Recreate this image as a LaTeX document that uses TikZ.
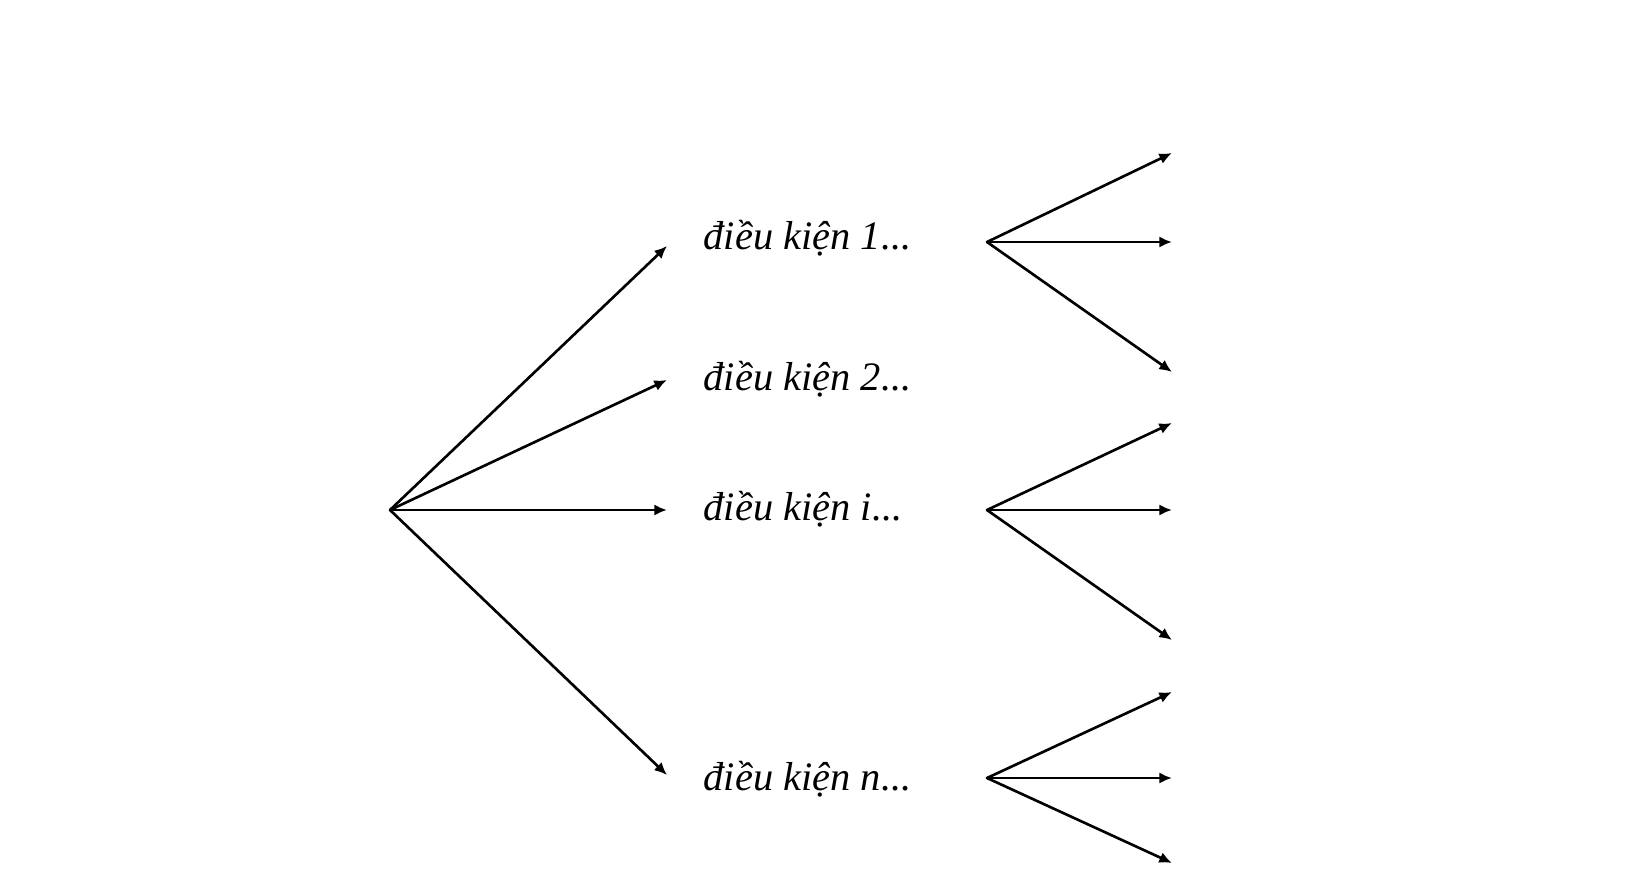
\documentclass[tikz,border=0pt]{standalone}
\usepackage{fontspec}
\setmainfont{Liberation Serif}
\usetikzlibrary{arrows.meta}
\begin{document}
\begin{tikzpicture}[line cap=round,line join=round,>={Latex[length=3.6pt,width=3.2pt]},
  branch/.style={line width=0.75pt,->},
  cond/.style={anchor=base west,inner sep=0pt,font=\fontsize{11.5}{14}\selectfont\itshape}]
  \useasboundingbox (0,0) rectangle (16.45,8.71);
  % root and first level
  \coordinate (o) at (3.90,3.61);
  \coordinate (t1) at (6.67,6.25);
  \coordinate (t2) at (6.67,4.91);
  \coordinate (ti) at (6.67,3.61);
  \coordinate (tn) at (6.67,0.96);
  \node[cond] (c1) at (7.03,6.21) {điều kiện 1...};
  \node[cond] (c2) at (7.03,4.81) {điều kiện 2...};
  \node[cond] (ci) at (7.03,3.51) {điều kiện i...};
  \node[cond] (cn) at (7.03,0.81) {điều kiện n...};
  \draw[branch] (o) -- (t1);
  \draw[branch] (o) -- (t2);
  \draw[branch] (o) -- (ti);
  \draw[branch] (o) -- (tn);
  % second level
  \coordinate (f1) at (9.87,6.29);
  \coordinate (fi) at (9.87,3.61);
  \coordinate (fn) at (9.87,0.93);
  \draw[branch] (f1) -- (11.72,7.18);
  \draw[branch] (f1) -- (11.72,6.29);
  \draw[branch] (f1) -- (11.72,4.99);
  \draw[branch] (fi) -- (11.72,4.48);
  \draw[branch] (fi) -- (11.72,3.61);
  \draw[branch] (fi) -- (11.72,2.31);
  \draw[branch] (fn) -- (11.72,1.79);
  \draw[branch] (fn) -- (11.72,0.93);
  \draw[branch] (fn) -- (11.72,0.08);
\end{tikzpicture}
\end{document}
